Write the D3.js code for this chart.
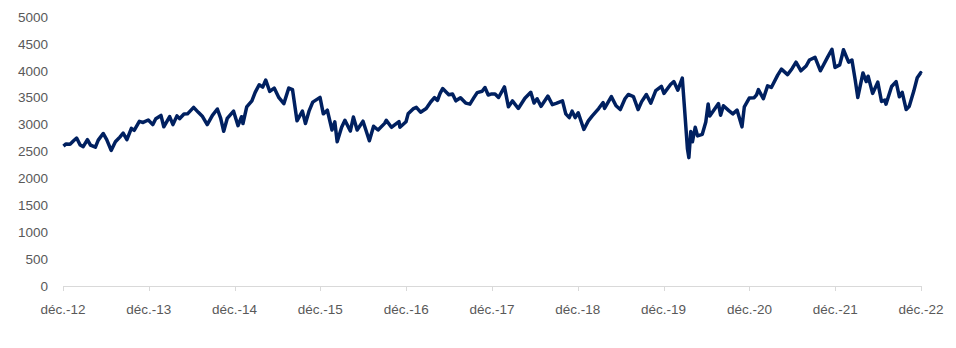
<!DOCTYPE html>
<html><head><meta charset="utf-8">
<script src="https://cdn.jsdelivr.net/npm/d3@7"></script>
<style>body{margin:0;background:#fff}svg{display:block}</style>
</head><body><svg id="c" width="956" height="348"></svg>
<script>
const dates = ["2012-12-03","2012-12-14","2012-12-31","2013-01-15","2013-01-28","2013-02-12","2013-02-25","2013-03-15","2013-03-28","2013-04-18","2013-04-30","2013-05-21","2013-06-05","2013-06-24","2013-07-12","2013-07-31","2013-08-14","2013-08-30","2013-09-18","2013-09-30","2013-10-22","2013-11-07","2013-11-29","2013-12-18","2013-12-31","2014-01-22","2014-02-03","2014-02-28","2014-03-14","2014-03-31","2014-04-11","2014-04-30","2014-05-15","2014-06-10","2014-06-30","2014-07-18","2014-08-07","2014-08-29","2014-09-19","2014-10-03","2014-10-16","2014-10-31","2014-11-27","2014-12-16","2014-12-31","2015-01-06","2015-01-22","2015-02-13","2015-02-27","2015-03-16","2015-03-31","2015-04-13","2015-04-30","2015-05-19","2015-06-08","2015-06-29","2015-07-20","2015-08-05","2015-08-24","2015-09-16","2015-09-29","2015-10-15","2015-10-30","2015-11-30","2015-12-14","2015-12-31","2016-01-20","2016-02-01","2016-02-11","2016-03-01","2016-03-15","2016-04-07","2016-04-20","2016-05-06","2016-05-31","2016-06-27","2016-07-15","2016-08-03","2016-08-31","2016-09-07","2016-09-29","2016-10-14","2016-10-31","2016-11-04","2016-11-30","2016-12-09","2016-12-30","2017-01-13","2017-01-31","2017-02-24","2017-03-15","2017-03-31","2017-04-13","2017-04-24","2017-05-05","2017-05-31","2017-06-16","2017-06-30","2017-07-20","2017-08-11","2017-08-29","2017-09-15","2017-09-29","2017-10-20","2017-11-01","2017-11-15","2017-11-30","2017-12-14","2017-12-29","2018-01-23","2018-02-09","2018-02-26","2018-03-23","2018-04-20","2018-05-15","2018-05-29","2018-06-11","2018-06-28","2018-07-27","2018-08-15","2018-08-31","2018-09-27","2018-10-11","2018-10-26","2018-11-07","2018-11-20","2018-12-03","2018-12-27","2019-01-15","2019-01-31","2019-02-28","2019-03-19","2019-03-25","2019-04-23","2019-05-13","2019-05-31","2019-06-20","2019-07-04","2019-07-26","2019-08-15","2019-08-30","2019-09-19","2019-10-08","2019-10-29","2019-11-22","2019-12-03","2019-12-31","2020-01-14","2020-01-31","2020-02-19","2020-02-28","2020-03-12","2020-03-18","2020-03-26","2020-04-02","2020-04-14","2020-04-24","2020-05-14","2020-05-29","2020-06-08","2020-06-15","2020-07-22","2020-07-31","2020-08-12","2020-09-04","2020-09-21","2020-10-09","2020-10-30","2020-11-09","2020-11-30","2020-12-21","2020-12-31","2021-01-08","2021-01-29","2021-02-16","2021-03-04","2021-03-31","2021-04-16","2021-05-12","2021-05-31","2021-06-17","2021-07-08","2021-07-30","2021-08-13","2021-09-06","2021-09-29","2021-10-29","2021-11-17","2021-11-30","2021-12-20","2021-12-31","2022-01-05","2022-01-27","2022-02-10","2022-02-24","2022-03-07","2022-03-29","2022-04-12","2022-04-20","2022-05-09","2022-05-31","2022-06-16","2022-06-30","2022-07-05","2022-07-29","2022-08-17","2022-08-31","2022-09-12","2022-09-29","2022-10-12","2022-10-31","2022-11-15","2022-11-30","2022-12-01"];
const values = [2600,2640,2636,2700,2750,2620,2590,2720,2620,2580,2712,2835,2720,2520,2680,2768,2840,2720,2930,2893,3060,3040,3086,3000,3109,3170,2960,3149,3000,3162,3110,3198,3200,3320,3228,3150,3000,3172,3290,3120,2875,3114,3250,2980,3146,3020,3330,3440,3599,3740,3697,3828,3616,3680,3500,3390,3680,3650,3070,3250,3020,3260,3418,3506,3200,3268,2900,3050,2680,2950,3080,2880,3140,2900,3063,2700,2970,2900,3023,3080,2950,3000,3055,2950,3052,3200,3291,3320,3231,3300,3420,3501,3450,3580,3670,3555,3570,3442,3500,3400,3380,3500,3595,3620,3690,3550,3570,3570,3504,3700,3330,3440,3300,3490,3600,3400,3480,3340,3530,3370,3393,3440,3200,3130,3250,3130,3220,2910,3070,3159,3298,3410,3300,3520,3350,3280,3480,3560,3520,3280,3427,3560,3400,3630,3710,3580,3745,3800,3640,3865,3329,2545,2386,2870,2680,2950,2790,2820,3050,3385,3160,3390,3174,3350,3260,3200,3270,2958,3330,3493,3500,3553,3650,3481,3720,3690,3919,4030,3930,4039,4160,4000,4089,4200,4250,4000,4250,4401,4063,4110,4298,4392,4160,4200,3830,3505,3960,3800,3900,3580,3789,3430,3455,3380,3708,3800,3517,3600,3280,3340,3618,3870,3965,3950];
const yTicks = [0,500,1000,1500,2000,2500,3000,3500,4000,4500,5000];
const xTickDates = ["2012-12-01","2013-12-01","2014-12-01","2015-12-01","2016-12-01","2017-12-01","2018-12-01","2019-12-01","2020-12-01","2021-12-01","2022-12-01"];
const xTickLabels = ["déc.-12","déc.-13","déc.-14","déc.-15","déc.-16","déc.-17","déc.-18","déc.-19","déc.-20","déc.-21","déc.-22"];

const parse = d3.utcParse("%Y-%m-%d");
const data = dates.map((d,i)=>({date:parse(d), v:values[i]}));
const svg = d3.select("#c");
const x = d3.scaleUtc().domain([parse(xTickDates[0]), parse(xTickDates[xTickDates.length-1])]).range([63,921]);
const y = d3.scaleLinear().domain([0,5000]).range([286,17]);
const font = "'Liberation Sans', Arial, sans-serif";
const txt = "#595959";

svg.append("g").selectAll("text").data(yTicks).join("text")
  .attr("x",48).attr("y",d=>y(d)).attr("dy","0.35em")
  .attr("text-anchor","end").attr("font-family",font).attr("font-size",13.5).attr("fill",txt)
  .text(d=>d);

const xa = svg.append("g").attr("transform","translate(0,286)");
xa.append("line").attr("x1",63).attr("x2",921).attr("y1",0.5).attr("y2",0.5).attr("stroke","#d9d9d9").attr("stroke-width",1);
xa.selectAll("line.t").data(xTickDates).join("line").attr("class","t")
  .attr("x1",d=>Math.round(x(parse(d)))+0.5).attr("x2",d=>Math.round(x(parse(d)))+0.5)
  .attr("y1",0).attr("y2",5).attr("stroke","#d9d9d9");
xa.selectAll("text").data(xTickDates).join("text")
  .attr("x",d=>x(parse(d))).attr("y",28)
  .attr("text-anchor","middle").attr("font-family",font).attr("font-size",13.5).attr("fill",txt)
  .text((d,i)=>xTickLabels[i]);

svg.append("path").datum(data)
  .attr("fill","none").attr("stroke","#002060").attr("stroke-width",3.5).attr("stroke-linejoin","round")
  .attr("d", d3.line().x(d=>x(d.date)).y(d=>y(d.v)));
</script></body></html>
